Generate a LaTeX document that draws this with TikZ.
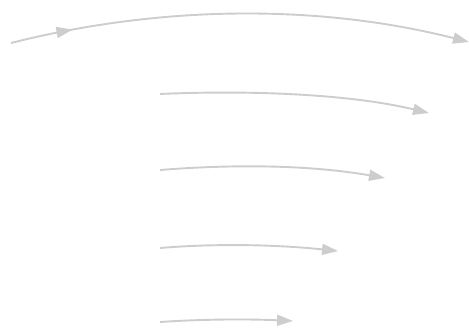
\documentclass[tikz,border=0pt]{standalone}
\usetikzlibrary{arrows.meta,decorations.markings}
\definecolor{arrowgray}{RGB}{205,205,205}
\tikzset{
  flow/.style={draw=arrowgray, line width=1.9pt, -{Triangle[length=16pt,width=11pt]}, arrowgray},
  midtip/.style={postaction={decorate, decoration={markings,
      mark=at position #1 with {\arrow{Triangle[length=16pt,width=11pt]}}}}}
}
\begin{document}
\begin{tikzpicture}[x=1pt,y=-1pt]
\useasboundingbox (0,0) rectangle (469,329);
\coordinate (s1) at (11,43);
\coordinate (e1) at (469,42);
\coordinate (s2) at (160,94);
\coordinate (e2) at (429,113);
\coordinate (s3) at (160,170);
\coordinate (e3) at (385,178);
\coordinate (s4) at (160,248);
\coordinate (e4) at (338,251);
\coordinate (s5) at (160,322);
\coordinate (e5) at (293,321);
\draw[flow, midtip=0.136] (s1) .. controls (161,5) and (319,4) .. (e1);
\draw[flow] (s2) .. controls (250,90) and (349,94) .. (e2);
\draw[flow] (s3) .. controls (235,164) and (310,165) .. (e3);
\draw[flow] (s4) .. controls (220,243) and (280,245) .. (e4);
\draw[flow] (s5) .. controls (205,319) and (250,319) .. (e5);
\end{tikzpicture}
\end{document}
